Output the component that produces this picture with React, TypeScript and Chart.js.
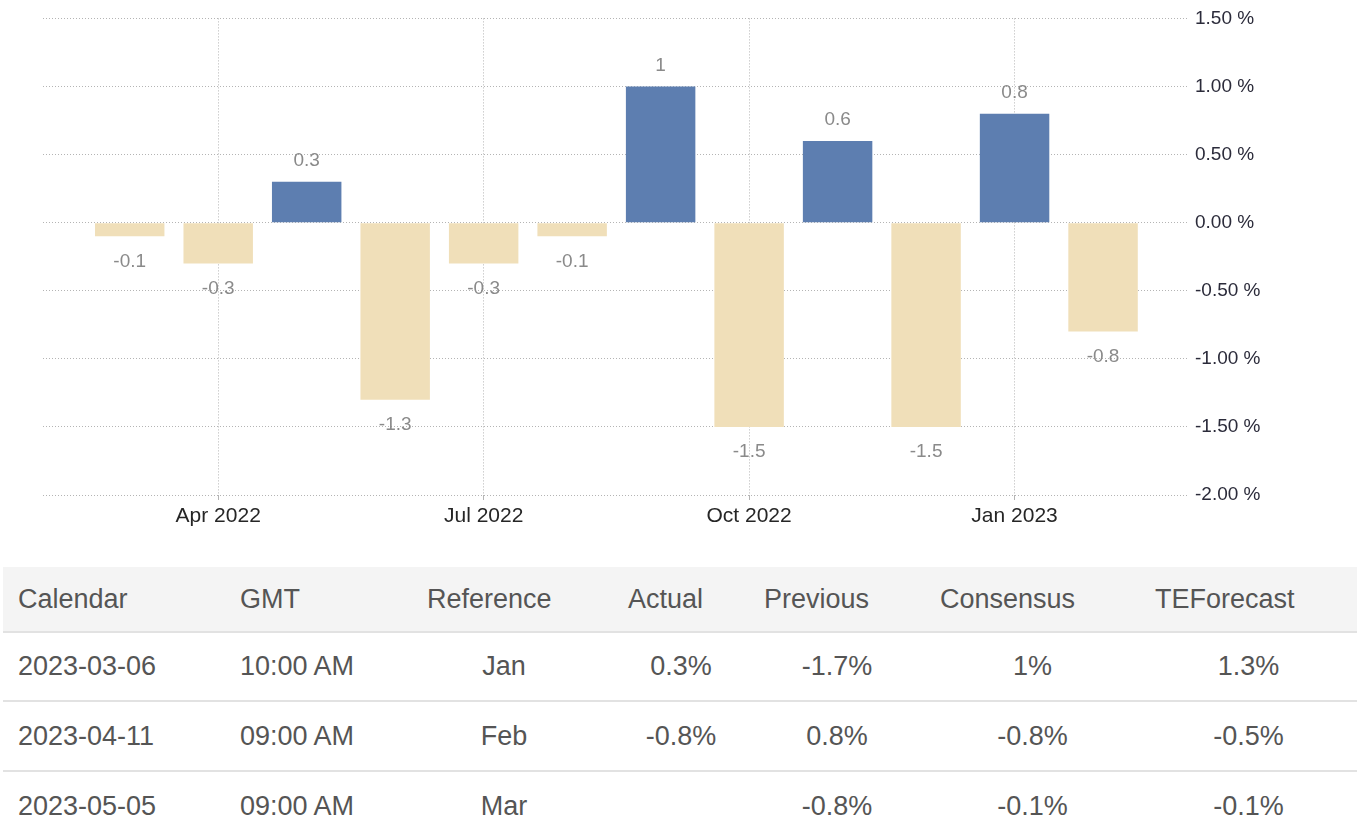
import React, { useEffect, useRef } from "react";
import { Chart, registerables } from "chart.js";

Chart.register(...registerables);

// ---- chart data ----
const months = [
  "Mar 2022", "Apr 2022", "May 2022", "Jun 2022", "Jul 2022", "Aug 2022",
  "Sep 2022", "Oct 2022", "Nov 2022", "Dec 2022", "Jan 2023", "Feb 2023",
];
const values = [-0.1, -0.3, 0.3, -1.3, -0.3, -0.1, 1, -1.5, 0.6, -1.5, 0.8, -0.8];
const tickMonths = ["Apr 2022", "Jul 2022", "Oct 2022", "Jan 2023"];
const yTicks = [1.5, 1.0, 0.5, 0, -0.5, -1.0, -1.5, -2.0];

// ---- table data ----
const tableHeaders = ["Calendar", "GMT", "Reference", "Actual", "Previous", "Consensus", "TEForecast"];
const calendarDates = ["2023-03-06", "2023-04-11", "2023-05-05"];
const gmtTimes = ["10:00 AM", "09:00 AM", "09:00 AM"];
const references = ["Jan", "Feb", "Mar"];
const actuals = ["0.3%", "-0.8%", ""];
const previous = ["-1.7%", "0.8%", "-0.8%"];
const consensus = ["1%", "-0.8%", "-0.1%"];
const teForecast = ["1.3%", "-0.5%", "-0.1%"];

const BLUE = "#5d7eb0";
const BEIGE = "#f0dfb9";
const GRID = "#b4b4b4";
const FONT = "'Liberation Sans', Arial, sans-serif";

const valueLabels = {
  id: "valueLabels",
  afterDatasetsDraw(chart: any) {
    const ctx = chart.ctx;
    const meta = chart.getDatasetMeta(0);
    ctx.save();
    ctx.font = `19px ${FONT}`;
    ctx.fillStyle = "#8a8a8a";
    ctx.textAlign = "center";
    ctx.textBaseline = "middle";
    meta.data.forEach((bar: any, i: number) => {
      const v = values[i];
      const y = v >= 0 ? bar.y - 21 : bar.y + 25;
      ctx.fillText(String(v), bar.x, y);
    });
    ctx.restore();
  },
};

const colWidths = [222, 187, 201, 136, 176, 215, 217];

export default function App() {
  const ref = useRef<HTMLCanvasElement | null>(null);

  useEffect(() => {
    if (!ref.current) return;
    const tickPositions = tickMonths.map((m) => months.indexOf(m) + 1);
    const chart = new Chart(ref.current, {
      type: "bar",
      data: {
        datasets: [
          {
            data: values.map((v, i) => ({ x: i + 1, y: v })),
            backgroundColor: values.map((v) => (v >= 0 ? BLUE : BEIGE)),
            borderWidth: 0,
            categoryPercentage: 1,
            barPercentage: 0.785,
          },
        ],
      },
      options: {
        animation: false,
        responsive: false,
        layout: { padding: { top: 17, left: 43, right: 0, bottom: 0 } },
        plugins: { legend: { display: false }, tooltip: { enabled: false } },
        scales: {
          x: {
            type: "linear",
            offset: false,
            min: 0.02,
            max: 12.96,
            afterBuildTicks: (axis: any) => {
              axis.ticks = tickPositions.map((v) => ({ value: v }));
            },
            afterFit: (axis: any) => {
              axis.height = 50;
            },
            ticks: {
              autoSkip: false,
              maxRotation: 0,
              padding: 4,
              color: "#262626",
              font: { family: FONT, size: 21 },
              callback: (v: any) => {
                const idx = tickPositions.indexOf(Number(v));
                return idx >= 0 ? tickMonths[idx] : "";
              },
            },
            grid: {
              offset: false,
              color: GRID,
              lineWidth: 1,
              tickLength: 5,
              drawTicks: true,
            },
            border: { display: false, dash: [1, 2] },
          },
          y: {
            position: "right",
            min: -2,
            max: 1.5,
            afterBuildTicks: (axis: any) => {
              axis.ticks = yTicks.map((v) => ({ value: v }));
            },
            afterFit: (axis: any) => {
              axis.width = 172;
            },
            ticks: {
              padding: 7,
              color: "#2b2b3a",
              font: { family: FONT, size: 19 },
              callback: (v: any) => Number(v).toFixed(2) + " %",
            },
            grid: { color: GRID, lineWidth: 1, drawTicks: false },
            border: { display: false, dash: [1, 2] },
          },
        },
      },
      plugins: [valueLabels],
    } as any);
    return () => chart.destroy();
  }, []);

  const rows = calendarDates.map((d, i) => [
    d, gmtTimes[i], references[i], actuals[i], previous[i], consensus[i], teForecast[i],
  ]);
  const rowHeights = [69, 70, 70];

  return (
    <div
      style={{
        position: "absolute",
        left: 0,
        top: 0,
        width: 1360,
        height: 840,
        overflow: "hidden",
        background: "#fff",
        fontFamily: FONT,
      }}
    >
      <canvas ref={ref} width={1360} height={545} style={{ display: "block" }} />
      <div style={{ position: "absolute", left: 3, top: 567, width: 1354 }}>
        <div
          style={{
            display: "flex",
            height: 64,
            background: "#f4f4f4",
            alignItems: "center",
          }}
        >
          {tableHeaders.map((h, c) => (
            <div
              key={h}
              style={{
                width: colWidths[c],
                boxSizing: "border-box",
                paddingLeft: 15,
                fontSize: 27,
                color: "#555",
                whiteSpace: "nowrap",
              }}
            >
              {h}
            </div>
          ))}
        </div>
        {rows.map((r, ri) => (
          <div
            key={ri}
            style={{
              display: "flex",
              height: rowHeights[ri],
              boxSizing: "border-box",
              borderTop: "2px solid #e2e2e2",
              alignItems: "center",
            }}
          >
            {r.map((cell, c) => (
              <div
                key={c}
                style={{
                  width: colWidths[c],
                  boxSizing: "border-box",
                  paddingLeft: c < 2 ? 15 : 0,
                  paddingRight: c === 2 ? 17 : 0,
                  textAlign: c < 2 ? "left" : "center",
                  fontSize: 27,
                  color: "#555",
                  whiteSpace: "nowrap",
                }}
              >
                {cell}
              </div>
            ))}
          </div>
        ))}
      </div>
    </div>
  );
}
